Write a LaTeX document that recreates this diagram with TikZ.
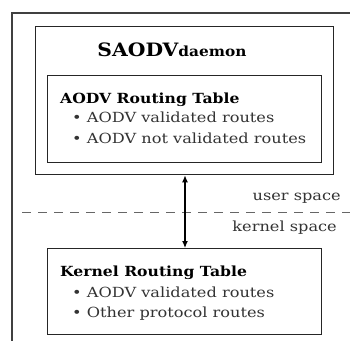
\documentclass[tikz,border=0pt]{standalone}
\usepackage{fontspec}
\setmainfont{DejaVu Serif}[FakeStretch=1.16]
\newfontfamily\titlefont{DejaVu Serif}[FakeStretch=1.1]
\newfontfamily\headfont{DejaVu Serif}[FakeStretch=1.12]
\usetikzlibrary{arrows.meta}
\tikzset{
  frameline/.style={draw=black!75, line width=1.2pt},
  boxframe/.style={draw=black!85, line width=1.3pt},
  heading/.style={anchor=base west, inner sep=0pt, font=\headfont\bfseries\fontsize{14}{16}\selectfont},
  item/.style={anchor=base west, inner sep=0pt, text=black!80, font=\fontsize{14}{16}\selectfont},
  spacelabel/.style={anchor=base east, inner sep=0pt, text=black!80, font=\fontsize{14}{16}\selectfont},
}
\begin{document}
\begin{tikzpicture}[x=1bp, y=-1bp]
\useasboundingbox (0,0) rectangle (350,341);
% outer frame (cut off at the right and bottom)
\draw[frameline] (350,13) -- (12,13) -- (12,341);
% daemon box
\node[boxframe, minimum width=298bp, minimum height=148bp, anchor=north west] (daemon) at (35,26) {};
\node[anchor=base, inner sep=0pt, font=\titlefont\bfseries] (dtitle) at (172,56)
  {{\fontsize{18.5}{20}\selectfont SAODV}{\fontsize{14}{16}\selectfont daemon}};
% AODV routing table box
\node[boxframe, minimum width=274bp, minimum height=87bp, anchor=north west] (aodv) at (47,75) {};
\node[heading] (aodvh) at (60,103) {AODV Routing Table};
\node[item] (aodv1) at (72,122.5) {• AODV validated routes};
\node[item] (aodv2) at (72,143.5) {• AODV not validated routes};
% kernel routing table box
\node[boxframe, minimum width=274bp, minimum height=86bp, anchor=north west] (kernel) at (47,248) {};
\node[heading] (kernh) at (60,276) {Kernel Routing Table};
\node[item] (kern1) at (72,297) {• AODV validated routes};
\node[item] (kern2) at (72,317) {• Other protocol routes};
% user / kernel boundary
\coordinate (sepL) at (22,212);
\coordinate (sepR) at (350,212);
\draw[black!60, line width=1pt, dash pattern=on 9bp off 7bp] (sepL) -- (sepR);
\node[spacelabel] (user) at (341,200) {user space};
\node[spacelabel] (kspace) at (337,231) {kernel space};
% link between the tables
\draw[black, line width=1.2pt, {Latex[length=7bp,width=6bp]}-{Latex[length=7bp,width=6bp]}] (daemon.south -| 185,0) -- (kernel.north -| 185,0);
\end{tikzpicture}
\end{document}
